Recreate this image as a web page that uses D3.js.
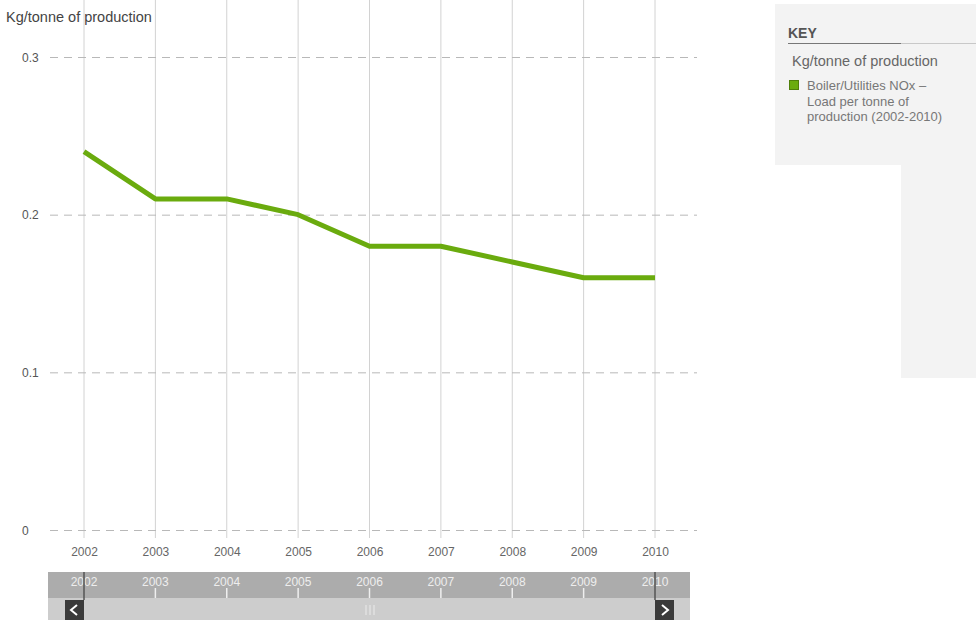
<!DOCTYPE html>
<html>
<head>
<meta charset="utf-8">
<script src="https://cdn.jsdelivr.net/npm/d3@7/dist/d3.min.js"></script>
<style>
  html, body { margin: 0; padding: 0; background: #fff; }
  svg { display: block; font-family: "Liberation Sans", Arial, sans-serif; }
</style>
</head>
<body>
<svg id="chart" width="976" height="620"></svg>
<script>
// Boiler/Utilities NOx load per tonne of production, 2002-2010
const years = ["2002", "2003", "2004", "2005", "2006", "2007", "2008", "2009", "2010"];
const noxLoad = [0.24, 0.21, 0.21, 0.20, 0.18, 0.18, 0.17, 0.16, 0.16];
const yTicks = [0, 0.1, 0.2, 0.3];
const yTickLabels = ["0", "0.1", "0.2", "0.3"];
const unitLabel = "Kg/tonne of production";
const seriesName = ["Boiler/Utilities NOx \u2013", "Load per tonne of", "production (2002-2010)"];

const svg = d3.select("#chart");
const green = "#6aab0e";

const x = d3.scalePoint().domain(years).range([84, 655]);
const y = d3.scaleLinear().domain([0, 0.3]).range([530, 57]);

// vertical gridlines per year
svg.append("g").selectAll("line").data(years).join("line")
  .attr("x1", d => x(d)).attr("x2", d => x(d))
  .attr("y1", 0).attr("y2", 538)
  .attr("stroke", "#d2d2d2").attr("stroke-width", 1);

// dashed horizontal gridlines
const yAxis = d3.axisLeft(y).tickValues(yTicks)
  .tickFormat((d, i) => yTickLabels[i])
  .tickSize(-647);
const yg = svg.append("g").attr("transform", "translate(50,0)").call(yAxis);
yg.select(".domain").remove();
yg.selectAll(".tick line")
  .attr("stroke", "#b8b8b8").attr("stroke-dasharray", "8,6");
yg.selectAll(".tick text")
  .attr("x", -28).attr("text-anchor", "start").attr("dy", "0.35em")
  .attr("font-size", 12).attr("fill", "#555")
  .attr("font-family", "Liberation Sans, Arial, sans-serif");

// unit label
svg.append("text").attr("x", 6).attr("y", 22)
  .attr("font-size", 14.5).attr("fill", "#444").text(unitLabel);

// x tick labels
const xAxis = d3.axisBottom(x).tickSize(0).tickPadding(0);
const xg = svg.append("g").attr("transform", "translate(0,556)").call(xAxis);
xg.select(".domain").remove();
xg.selectAll(".tick text").attr("font-size", 12).attr("fill", "#666")
  .attr("font-family", "Liberation Sans, Arial, sans-serif").attr("dy", 0);

// data line
const line = d3.line().x((d, i) => x(years[i])).y(d => y(d));
svg.append("path").datum(noxLoad)
  .attr("d", line).attr("fill", "none")
  .attr("stroke", green).attr("stroke-width", 5)
  .attr("stroke-linejoin", "round");

// navigator / scroller
const nav = svg.append("g");
nav.append("rect").attr("x", 48).attr("y", 572).attr("width", 642).attr("height", 26).attr("fill", "#acacac");
nav.append("rect").attr("x", 48).attr("y", 598).attr("width", 642).attr("height", 22).attr("fill", "#cdcdcd");
nav.selectAll("line.navtick").data(years.slice(1, -1)).join("line")
  .attr("class", "navtick")
  .attr("x1", d => x(d)).attr("x2", d => x(d))
  .attr("y1", 588).attr("y2", 598)
  .attr("stroke", "#efefef").attr("stroke-width", 1.5);
nav.selectAll("text.navlabel").data(years).join("text")
  .attr("class", "navlabel")
  .attr("x", d => x(d)).attr("y", 586)
  .attr("text-anchor", "middle").attr("font-size", 12)
  .attr("fill", "#eeeeee").text(d => d);
// handles
[x(years[0]), x(years[years.length - 1])].forEach(hx => {
  nav.append("line").attr("x1", hx).attr("x2", hx).attr("y1", 572).attr("y2", 600)
    .attr("stroke", "#555").attr("stroke-width", 1.5);
});
// arrow buttons
nav.append("rect").attr("x", 65).attr("y", 600).attr("width", 19).attr("height", 20).attr("fill", "#3a3a3a");
nav.append("path").attr("d", "M77,605 L71,610 L77,615").attr("fill", "none").attr("stroke", "#fff").attr("stroke-width", 2);
nav.append("rect").attr("x", 655).attr("y", 600).attr("width", 19).attr("height", 20).attr("fill", "#3a3a3a");
nav.append("path").attr("d", "M662,605 L668,610 L662,615").attr("fill", "none").attr("stroke", "#fff").attr("stroke-width", 2);
// scrollbar grip
[366, 370, 374].forEach(gx => {
  nav.append("line").attr("x1", gx).attr("x2", gx).attr("y1", 605).attr("y2", 615)
    .attr("stroke", "#e6e6e6").attr("stroke-width", 1.2);
});

// key panel
const key = svg.append("g");
key.append("path")
  .attr("d", "M775,4 L976,4 L976,378 L901,378 L901,165 L775,165 Z")
  .attr("fill", "#f3f3f3");
key.append("text").attr("x", 788).attr("y", 38)
  .attr("font-size", 14).attr("font-weight", "bold").attr("fill", "#555").text("KEY");
key.append("line").attr("x1", 788).attr("x2", 901).attr("y1", 43.5).attr("y2", 43.5)
  .attr("stroke", "#777").attr("stroke-width", 1);
key.append("line").attr("x1", 901).attr("x2", 976).attr("y1", 43.5).attr("y2", 43.5)
  .attr("stroke", "#c8c8c8").attr("stroke-width", 1);
key.append("text").attr("x", 792).attr("y", 66)
  .attr("font-size", 14.5).attr("fill", "#666").text(unitLabel);
key.append("rect").attr("x", 789.5).attr("y", 80.5).attr("width", 9).attr("height", 9)
  .attr("fill", green).attr("stroke", "#4f7f0a").attr("stroke-width", 1);
key.append("g").selectAll("text").data(seriesName).join("text")
  .attr("x", 807).attr("y", (d, i) => 90 + i * 15.5)
  .attr("font-size", 13).attr("fill", "#777").text(d => d);
</script>
</body>
</html>
